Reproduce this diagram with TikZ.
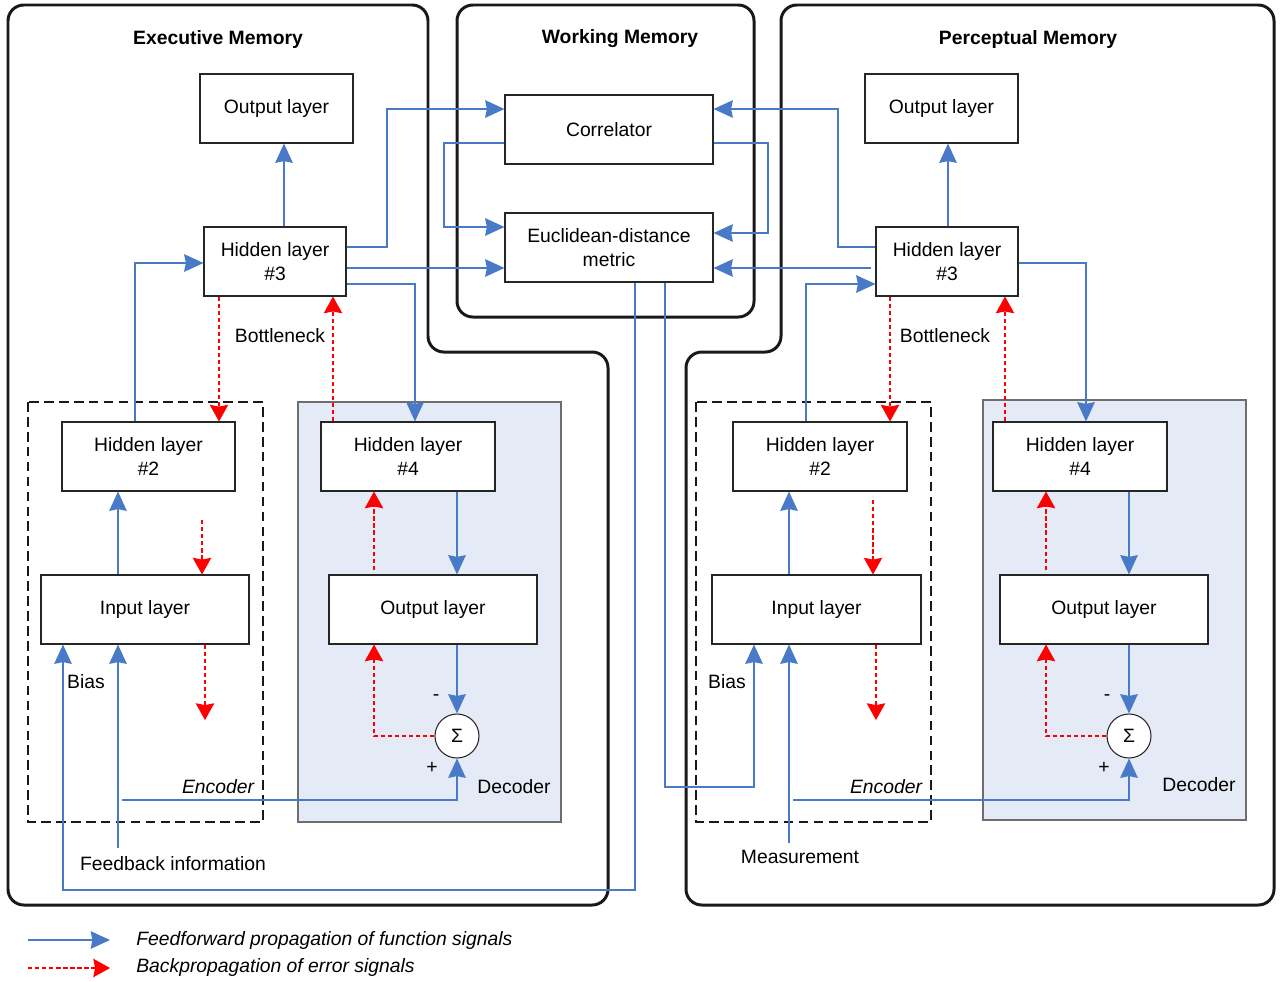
\documentclass[tikz,border=0pt]{standalone}
\usepackage{fontspec}
\setmainfont{Liberation Sans}
\usetikzlibrary{arrows.meta}
\definecolor{fblue}{RGB}{72,122,200}
\definecolor{decfill}{RGB}{228,234,246}
\definecolor{decedge}{RGB}{110,110,110}
\begin{document}
\begin{tikzpicture}[x=0.02cm,y=-0.02cm,
  font=\fontsize{11}{13.5}\selectfont,
  box/.style 2 args={draw=black!85, line width=0.6pt, fill=white, minimum width=#1*0.02cm, minimum height=#2*0.02cm, inner sep=0pt, align=center},
  sigmanode/.style={draw=black!85, line width=0.6pt, fill=white, circle, minimum size=0.88cm, inner sep=0pt},
  frame/.style={draw=black!90, line width=1.7pt, rounded corners=9pt},
  encbox/.style={draw=black!90, line width=1.6pt, dash pattern=on 5.5pt off 3pt},
  decbox/.style={draw=decedge, fill=decfill, line width=0.6pt},
  fwd/.style={draw=fblue, line width=0.85pt, -{Stealth[length=11pt,width=10pt,inset=1pt]}},
  bck/.style={draw=red, line width=0.7pt, dash pattern=on 2.5pt off 1.5pt, -{Stealth[length=9.5pt,width=10.5pt,inset=1pt]}},
  title/.style={font=\fontsize{11}{13.5}\selectfont\bfseries},
  lbl/.style={inner sep=0pt}
]
\useasboundingbox (0,0) rectangle (1284,981);

% frames
\draw[frame] (8,5) -- (428,5) -- (428,352) -- (608,352) -- (608,905) -- (8,905) -- cycle;
\draw[frame] (457,5) rectangle (754,317);
\draw[frame] (781,5) -- (1274,5) -- (1274,905) -- (686,905) -- (686,352) -- (781,352) -- cycle;

% encoder / decoder areas
\draw[decbox] (298,402) rectangle (561,822);
\draw[decbox] (983,400) rectangle (1246,820);
\draw[encbox] (28,402) rectangle (263,822);
\draw[encbox] (696,402) rectangle (931,822);

% titles
\node[title] (tEx) at (218,39) {Executive Memory};
\node[title] (tWo) at (620,39) {Working Memory};
\node[title] (tPe) at (1028,39) {Perceptual Memory};

% left nodes
\node[box={153}{69}] (Lout) at (276.5,108.5) {Output layer};
\node[box={142}{69}] (Lh3) at (275,261.5) {Hidden layer\\\#3};
\node[box={173}{69}] (Lh2) at (148.5,456.5) {Hidden layer\\\#2};
\node[box={208}{69}] (Lin) at (145,609.5) {Input layer};
\node[box={174}{69}] (Lh4) at (408,456.5) {Hidden layer\\\#4};
\node[box={208}{69}] (Lodec) at (433,609.5) {Output layer};
\node[sigmanode] (Lsig) at (457,736) {Σ};

% working memory nodes
\node[box={208}{69}] (Corr) at (609,129.5) {Correlator};
\node[box={208}{69}] (Eucl) at (609,247.5) {Euclidean-distance\\metric};

% right nodes
\node[box={153}{69}] (Rout) at (941.5,108.5) {Output layer};
\node[box={142}{69}] (Rh3) at (947,261.5) {Hidden layer\\\#3};
\node[box={174}{69}] (Rh2) at (820,456.5) {Hidden layer\\\#2};
\node[box={209}{69}] (Rin) at (816.5,609.5) {Input layer};
\node[box={174}{69}] (Rh4) at (1080,456.5) {Hidden layer\\\#4};
\node[box={208}{69}] (Rodec) at (1104,609.5) {Output layer};
\node[sigmanode] (Rsig) at (1129,736) {Σ};

% labels
\node[lbl] (bnL) at (280,336) {Bottleneck};
\node[lbl] (bnR) at (945,336) {Bottleneck};
\node[lbl] (biasL) at (86,682) {Bias};
\node[lbl] (biasR) at (727,682) {Bias};
\node[lbl,font=\fontsize{11}{13.5}\selectfont\itshape] (encL) at (218,787) {Encoder};
\node[lbl,font=\fontsize{11}{13.5}\selectfont\itshape] (encR) at (886,787) {Encoder};
\node[lbl] (decL) at (514,787) {Decoder};
\node[lbl] (decR) at (1199,785) {Decoder};
\node[lbl] (fbL) at (173,864) {Feedback information};
\node[lbl] (msR) at (800,857) {Measurement};
\node[lbl] (mL) at (436,698) {-};
\node[lbl] (pL) at (432,768) {+};
\node[lbl] (mR) at (1107,698) {-};
\node[lbl] (pR) at (1104,768) {+};

% coordinates for free ends
\coordinate (Lfb) at (118,848);
\coordinate (Lfb2) at (122,800);
\coordinate (Rms) at (789,843);
\coordinate (Rms2) at (793,800);
\coordinate (Lh2err) at (202,520);
\coordinate (Linerr) at (205,720);
\coordinate (Lodecerr) at (374,570);
\coordinate (Rh2err) at (873,500);
\coordinate (Rinerr) at (876,720);
\coordinate (Rodecerr) at (1046,570);

% ---- left feedforward
\draw[fwd] (Lh3.north -| 284,0) -- (Lout.south -| 284,0);
\draw[fwd] (Lh3.east |- 0,247) -| (387,109) -- (Corr.west |- 0,109);
\draw[fwd] (Lh3.east |- 0,268) -- (Eucl.west |- 0,268);
\draw[fwd] (Lh3.east |- 0,284) -| (Lh4.north -| 415,0);
\draw[fwd] (Lh2.north -| 135,0) |- (Lh3.west |- 0,263);
\draw[fwd] (Lin.north -| 118,0) -- (Lh2.south -| 118,0);
\draw[fwd] (Lfb) -- (Lin.south -| Lfb);
\draw[fwd] (Lfb2) -| (Lsig.south);
\draw[fwd] (Eucl.south -| 635,0) |- (63,890) -- (Lin.south -| 63,0);
\draw[fwd] (Lh4.south -| 457,0) -- (Lodec.north -| 457,0);
\draw[fwd] (Lodec.south -| 457,0) -- (Lsig.north);

% ---- left backprop
\draw[bck] (Lh3.south -| 219,0) -- (Lh2.north -| 219,0);
\draw[bck] (Lh4.north -| 333,0) -- (Lh3.south -| 333,0);
\draw[bck] (Lh2err) -- (Lin.north -| Lh2err);
\draw[bck] (Lin.south -| Linerr) -- (Linerr);
\draw[bck] (Lodecerr) -- (Lh4.south -| Lodecerr);
\draw[bck] (Lsig.west) -| (Lodec.south -| Lodecerr);

% ---- working memory
\draw[fwd] (Corr.west |- 0,143) -| (444,227) -- (Eucl.west |- 0,227);
\draw[fwd] (Corr.east |- 0,143) -| (768,233) -- (Eucl.east |- 0,233);

% ---- right feedforward
\draw[fwd] (Rh3.north -| 948,0) -- (Rout.south -| 948,0);
\draw[fwd] (Rh3.west |- 0,247) -| (838,109) -- (Corr.east |- 0,109);
\draw[fwd] ([xshift=-0.08cm]Rh3.west |- 0,268) -- (Eucl.east |- 0,268);
\draw[fwd] (Rh2.north -| 806,0) |- (Rh3.west |- 0,284);
\draw[fwd] (Rh3.east |- 0,263) -| (Rh4.north -| 1086,0);
\draw[fwd] (Rin.north -| 789,0) -- (Rh2.south -| 789,0);
\draw[fwd] (Rms) -- (Rin.south -| Rms);
\draw[fwd] (Rms2) -| (Rsig.south);
\draw[fwd] (Eucl.south -| 665,0) |- (754,787) -- (Rin.south -| 754,0);
\draw[fwd] (Rh4.south -| 1129,0) -- (Rodec.north -| 1129,0);
\draw[fwd] (Rodec.south -| 1129,0) -- (Rsig.north);

% ---- right backprop
\draw[bck] (Rh3.south -| 890,0) -- (Rh2.north -| 890,0);
\draw[bck] (Rh4.north -| 1005,0) -- (Rh3.south -| 1005,0);
\draw[bck] (Rh2err) -- (Rin.north -| Rh2err);
\draw[bck] (Rin.south -| Rinerr) -- (Rinerr);
\draw[bck] (Rodecerr) -- (Rh4.south -| Rodecerr);
\draw[bck] (Rsig.west) -| (Rodec.south -| Rodecerr);

% ---- legend
\coordinate (lg1a) at (28,940);
\coordinate (lg1b) at (110,940);
\coordinate (lg2a) at (28,968);
\coordinate (lg2b) at (110,968);
\draw[fwd] (lg1a) -- (lg1b);
\draw[bck] (lg2a) -- (lg2b);
\node[lbl,anchor=west,font=\fontsize{11}{13.5}\selectfont\itshape] (lgt1) at (136,940) {Feedforward propagation of function signals};
\node[lbl,anchor=west,font=\fontsize{11}{13.5}\selectfont\itshape] (lgt2) at (136,967) {Backpropagation of error signals};
\end{tikzpicture}
\end{document}
